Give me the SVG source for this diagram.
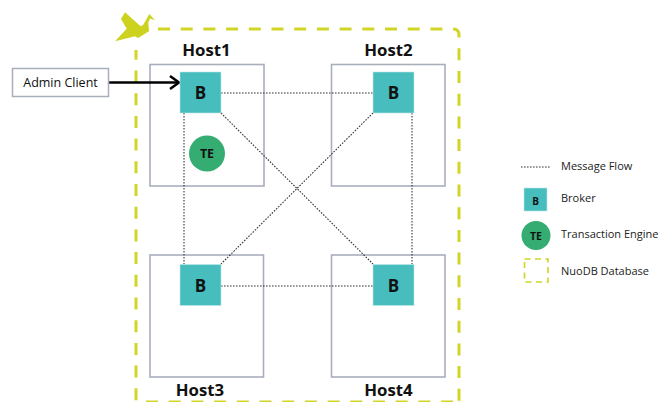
<svg xmlns="http://www.w3.org/2000/svg" width="660" height="402" viewBox="0 0 660 402">
<style>
text{font-family:"Open Sans","Noto Sans","Liberation Sans",sans-serif;fill:#111}
.host{fill:#fff;stroke:#a9aebd;stroke-width:1.6}
.broker{fill:#47bdbd;stroke:#bfe8e8;stroke-width:.6}
.te{fill:#35ad72}
.hl{font-size:16.800px;font-weight:700;text-anchor:middle}
.bl{font-size:17px;font-weight:700;text-anchor:middle}
.tl{font-size:12.500px;font-weight:700;text-anchor:middle}
.lg{font-size:11px;fill:#222}
.flow{fill:none;stroke:#333;stroke-width:1.1;stroke-dasharray:1.6 1.4}
.db{fill:none;stroke:#d0d526;stroke-width:3;stroke-dasharray:12 10.7}
</style>
<g id="database"><path class="db" d="M158 29H453Q459 29 459 35V402"/><path class="db" d="M146 402H455"/><path class="db" stroke-dashoffset="22" d="M136 401V50"/></g>
<g id="logo"><polygon fill="#cdd21f" points="115,41.300 135,36.300 138,38 149,31.300 148.300,23 150,18.500 155,20.300 149.300,14 143.300,24.700 140.700,26.300 133.300,19.700 125,12.300 121,19 126.700,28.700"/></g>
<g id="host1"><rect class="host" x="150" y="64.500" width="114" height="121.500"/><text class="hl" x="206.500" y="56">Host1</text></g>
<g id="host2"><rect class="host" x="331.500" y="64.500" width="113.500" height="121.500"/><text class="hl" x="388.500" y="56">Host2</text></g>
<g id="host3"><rect class="host" x="150" y="255" width="113.500" height="122"/><text class="hl" x="200" y="396">Host3</text></g>
<g id="host4"><rect class="host" x="331.500" y="255" width="113.500" height="122"/><text class="hl" x="388.500" y="396">Host4</text></g>
<g id="connectors">
<path class="flow" d="M221 93H373M184 113V264M412 113V264M221 286H373M221 113L373 264M373 113L221 264"/>
<path d="M109 82.500H178" fill="none" stroke="#000" stroke-width="2.500"/>
<path d="M170 76L179 82.500L170 89" fill="none" stroke="#000" stroke-width="2.500"/>
</g>
<g id="admin-client"><rect x="12.500" y="68.500" width="96" height="28" fill="#fff" stroke="#a9aebd" stroke-width="1.500"/><text x="60.500" y="86.500" font-size="12.500" text-anchor="middle">Admin Client</text></g>
<g id="broker1"><rect class="broker" x="180" y="72" width="41" height="41"/><text class="bl" x="200.500" y="99">B</text></g>
<g id="broker2"><rect class="broker" x="373" y="72" width="41" height="41"/><text class="bl" x="393.500" y="99">B</text></g>
<g id="broker3"><rect class="broker" x="180" y="264.500" width="41" height="41"/><text class="bl" x="200.500" y="291.500">B</text></g>
<g id="broker4"><rect class="broker" x="373" y="264.500" width="41" height="41"/><text class="bl" x="393.500" y="291.500">B</text></g>
<g id="te"><circle class="te" cx="207" cy="153.500" r="18"/><text class="tl" x="207" y="158">TE</text></g>
<g id="legend-flow"><path class="flow" d="M521 167H551"/><text class="lg" x="561" y="170">Message Flow</text></g>
<g id="legend-broker"><rect class="broker" x="524" y="188" width="23" height="23"/><text x="535.500" y="205" font-size="10" font-weight="700" text-anchor="middle">B</text><text class="lg" x="561" y="202">Broker</text></g>
<g id="legend-te"><circle class="te" cx="536" cy="235.500" r="14.500"/><text x="536" y="240" font-size="10.500" font-weight="700" text-anchor="middle">TE</text><text class="lg" x="561" y="238">Transaction Engine</text></g>
<g id="legend-db"><rect x="524.500" y="259" width="23.500" height="23" fill="none" stroke="#d0d526" stroke-width="1.600" stroke-dasharray="6 4.500"/><text class="lg" x="561" y="275">NuoDB Database</text></g>
</svg>
